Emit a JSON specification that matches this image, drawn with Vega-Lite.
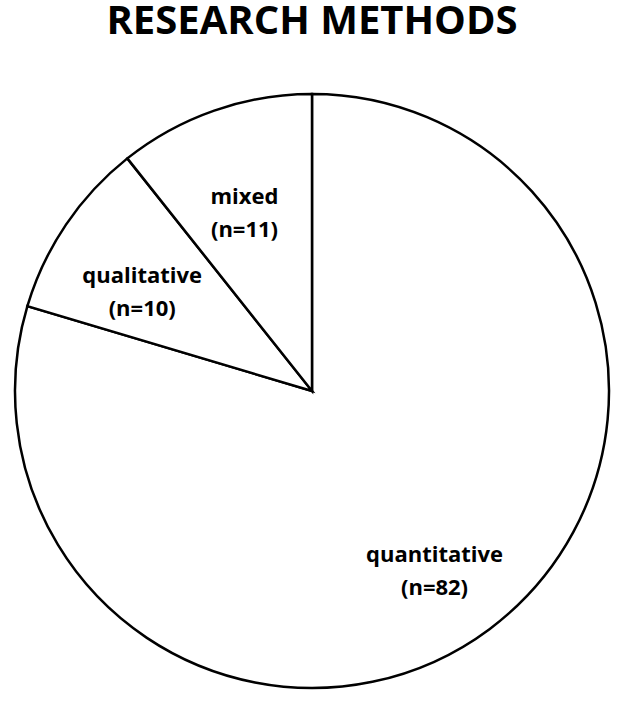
{
  "$schema": "https://vega.github.io/schema/vega-lite/v6.json",
  "width": 624,
  "height": 620,
  "padding": {"top": 2, "left": 0, "right": 0, "bottom": 0},
  "background": "white",
  "title": {
    "text": "RESEARCH METHODS",
    "font": "Open Sans",
    "fontSize": 40,
    "fontWeight": "bold",
    "color": "black",
    "anchor": "middle",
    "offset": 39
  },
  "data": {
    "values": [
      {"method": "quantitative", "n": 82, "label": "quantitative\n(n=82)"},
      {"method": "qualitative", "n": 10, "label": "qualitative\n(n=10)"},
      {"method": "mixed", "n": 11, "label": "mixed\n(n=11)"}
    ]
  },
  "encoding": {
    "theta": {"field": "n", "type": "quantitative", "stack": true},
    "order": {"field": "method", "sort": "descending"}
  },
  "layer": [
    {
      "mark": {"type": "arc", "outerRadius": 297, "fill": "white", "stroke": "black", "strokeWidth": 2.5}
    },
    {
      "mark": {"type": "text", "radius": 205, "font": "Open Sans", "fontSize": 22, "fontWeight": "bold", "color": "black", "lineBreak": "\n", "lineHeight": 33, "baseline": "middle", "align": "center"},
      "encoding": {"text": {"field": "label"}}
    }
  ],
  "config": {"view": {"stroke": null}}
}
